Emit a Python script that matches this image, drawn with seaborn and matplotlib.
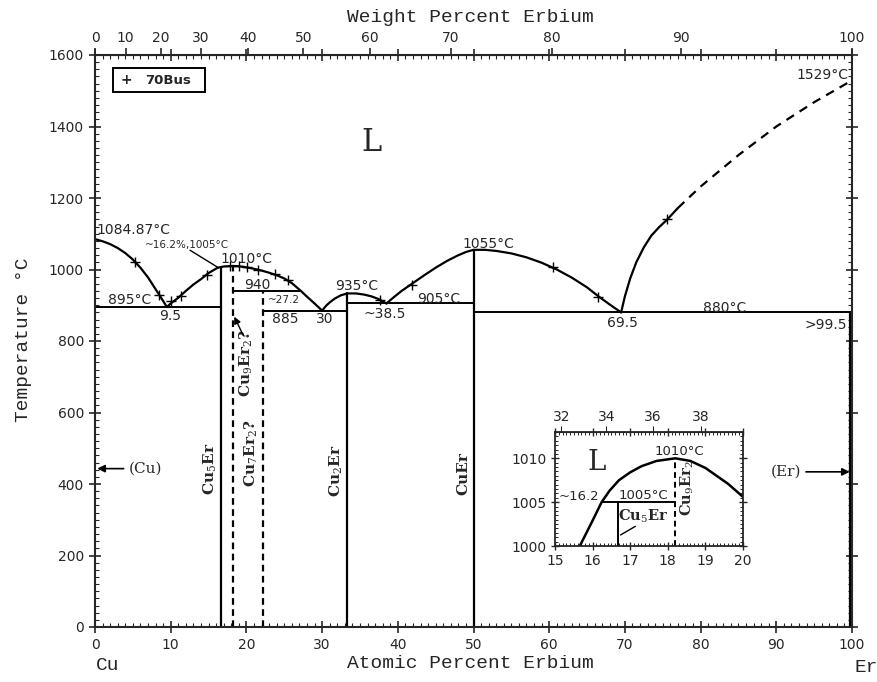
import numpy as np
import matplotlib
matplotlib.use("Agg")
import matplotlib.pyplot as plt
import seaborn as sns
from matplotlib.patches import Rectangle
from matplotlib.ticker import MultipleLocator

sns.set_style("ticks")
plt.rcParams["font.family"] = ["DejaVu Sans"]
plt.rcParams["mathtext.fontset"] = "dejavuserif"

# ---- data (atomic percent Er, temperature in C) ----
liq_cu_x = [0, 1, 2, 3, 4, 5, 6, 7, 8, 9, 9.5]
liq_cu_y = [1084.87, 1079, 1071, 1060, 1046, 1028, 1005, 978, 945, 912, 895]

liq_cu5_x = [9.5, 10, 11, 12, 13, 14, 15, 16.2, 17, 18.2, 19, 20, 21, 22, 23, 24, 25, 26, 27.2, 28, 29, 30]
liq_cu5_y = [895, 905, 921, 940, 958, 973, 990, 1005, 1008.4, 1010, 1009, 1006, 1002, 997, 991, 984,
             975, 962, 940, 924, 905, 885]

liq_cu2_x = [30, 30.5, 31, 31.7, 32.5, 33.33, 34.5, 35.5, 36.5, 37.5, 38.5]
liq_cu2_y = [885, 898, 908, 919, 928, 933, 933, 930, 925, 917, 905]

liq_cuer_x = [38.5, 39.5, 40.5, 42, 43.5, 45, 46.5, 48, 49, 50, 51.5, 53, 55, 57, 59, 61, 63, 65,
              66.5, 68, 69.5]
liq_cuer_y = [905, 923, 940, 962, 984, 1005, 1024, 1040, 1049, 1055, 1055, 1052, 1045, 1034, 1019,
              1000, 977, 950, 925, 902, 880]

liq_er_x = [69.5, 70, 70.7, 71.5, 72.5, 73.5, 74.5, 75.6, 77]
liq_er_y = [880, 925, 975, 1020, 1062, 1095, 1118, 1140, 1172]
liq_er_dash_x = [77, 80, 85, 90, 95, 100]
liq_er_dash_y = [1172, 1232, 1320, 1400, 1468, 1529]

# horizontal invariants: (x_start, x_end, T)
invariants = [(0, 16.67, 895), (18.18, 27.2, 940), (22.22, 33.33, 885),
              (33.33, 50, 905), (50, 100, 880)]
# compounds: (x, top T, dashed)
compounds = [(16.67, 1005, False), (18.18, 1010, True), (22.22, 940, True),
             (33.33, 933, False), (50, 1055, False), (99.7, 880, False)]

plus_x = [5.3, 8.4, 10.1, 11.4, 14.8, 17.8, 19.0, 20.1, 21.5, 23.8, 25.5, 37.6, 41.9, 60.5, 66.5, 75.6]
plus_y = [1022, 930, 913, 925, 985, 1009, 1009, 1006, 1000, 988, 972, 914, 958, 1007, 922, 1140]

# inset
ins_liq_x = [15.66, 16.0, 16.24, 16.45, 16.7, 17.0, 17.3, 17.7, 18.2, 18.6, 19.0, 19.3, 19.6, 20.0]
ins_liq_y = [1000, 1002.9, 1005, 1006.3, 1007.5, 1008.4, 1009.1, 1009.7, 1010, 1009.7, 1008.9,
             1008.0, 1007.1, 1005.6]

M_CU, M_ER = 63.546, 167.26


def at2wt(a):
    a = np.asarray(a, dtype=float)
    with np.errstate(all="ignore"):
        return 100 * a * M_ER / (a * M_ER + (100 - a) * M_CU)


def wt2at(w):
    w = np.asarray(w, dtype=float)
    with np.errstate(all="ignore"):
        return 100 * (w / M_ER) / (w / M_ER + (100 - w) / M_CU)


def curve(ax, x, y, ls="-", lw=1.6):
    sns.lineplot(x=x, y=y, ax=ax, sort=False, estimator=None,
                 color="black", linewidth=lw, linestyle=ls)


fig = plt.figure(figsize=(8.77, 6.82), dpi=100)
ax = fig.add_axes([95 / 877, 55 / 682, 757 / 877, 572 / 682])

for xs, ys in [(liq_cu_x, liq_cu_y), (liq_cu5_x, liq_cu5_y), (liq_cu2_x, liq_cu2_y),
               (liq_cuer_x, liq_cuer_y), (liq_er_x, liq_er_y)]:
    curve(ax, xs, ys)
curve(ax, liq_er_dash_x, liq_er_dash_y, ls=(0, (4, 3)))

for x0, x1, t in invariants:
    curve(ax, [x0, x1], [t, t], lw=1.4)
for x, t, dashed in compounds:
    curve(ax, [x, x], [0, t], ls=(0, (3, 2)) if dashed else "-", lw=1.6)

sns.scatterplot(x=plus_x, y=plus_y, ax=ax, marker="+", s=60, color="black",
                linewidth=1.0, zorder=5)

ax.set_xlim(0, 100)
ax.set_ylim(0, 1600)
ax.xaxis.set_major_locator(MultipleLocator(10))
ax.xaxis.set_minor_locator(MultipleLocator(1))
ax.yaxis.set_major_locator(MultipleLocator(200))
ax.yaxis.set_minor_locator(MultipleLocator(20))
ax.tick_params(which="major", direction="inout", length=8, width=1.2,
               top=True, right=True, labelsize=10, pad=4)
ax.tick_params(which="minor", direction="in", length=3, width=0.8, top=True, right=True)
for s in ax.spines.values():
    s.set_linewidth(1.5)
ax.set_xlabel("")
ax.set_ylabel("")

sec = ax.secondary_xaxis("top", functions=(at2wt, wt2at))
sec.set_xticks(list(range(0, 101, 10)))
sec.tick_params(direction="out", length=5, width=1.2, labelsize=10, pad=2)

# annotations
fs = 10
ax.text(36.5, 1355, "L", fontsize=22, family="DejaVu Serif", ha="center", va="center")
ax.text(0.2, 1092, "1084.87°C", fontsize=fs, ha="left", va="bottom")
ax.text(6.6, 1068, "~16.2%,1005°C", fontsize=7.5, ha="left", va="center")
curve(ax, [12.55, 16.3], [1054, 1005], lw=1.0)
ax.text(20.0, 1030, "1010°C", fontsize=fs, ha="center", va="center")
ax.text(21.4, 957, "940", fontsize=fs, ha="center", va="center")
ax.text(25.0, 915, "~27.2", fontsize=7.5, ha="center", va="center")
ax.text(25.1, 862, "885", fontsize=fs, ha="center", va="center")
ax.text(30.4, 862, "30", fontsize=fs, ha="center", va="center")
ax.text(34.6, 954, "935°C", fontsize=fs, ha="center", va="center")
ax.text(38.3, 876, "~38.5", fontsize=fs, ha="center", va="center")
ax.text(45.4, 917, "905°C", fontsize=fs, ha="center", va="center")
ax.text(51.9, 1071, "1055°C", fontsize=fs, ha="center", va="center")
ax.text(69.7, 850, "69.5", fontsize=fs, ha="center", va="center")
ax.text(83.2, 892, "880°C", fontsize=fs, ha="center", va="center")
ax.text(99.4, 845, ">99.5", fontsize=fs, ha="right", va="center")
ax.text(4.6, 915, "895°C", fontsize=fs, ha="center", va="center")
ax.text(9.9, 870, "9.5", fontsize=fs, ha="center", va="center")
ax.text(99.5, 1545, "1529°C", fontsize=fs, ha="right", va="center")

ax.annotate("(Cu)", xy=(0.3, 443), xytext=(4.4, 443), fontsize=11, family="DejaVu Serif",
            ha="left", va="center",
            arrowprops=dict(arrowstyle="-|>", color="black", lw=1.2, shrinkA=1, shrinkB=0))
ax.annotate("(Er)", xy=(99.7, 434), xytext=(93.3, 434), fontsize=11, family="DejaVu Serif",
            ha="right", va="center",
            arrowprops=dict(arrowstyle="-|>", color="black", lw=1.2, shrinkA=1, shrinkB=0))

lab = dict(rotation=90, ha="center", va="center", fontsize=11, family="DejaVu Serif",
           fontweight="bold")
ax.text(15.2, 442, r"Cu$_5$Er", **lab)
ax.text(20.0, 738, r"Cu$_9$Er$_2$?", **lab)
ax.text(20.7, 487, r"Cu$_7$Er$_2$?", **lab)
ax.text(31.9, 436, r"Cu$_2$Er", **lab)
ax.text(48.7, 428, "CuEr", **lab)
ax.annotate("", xy=(18.4, 868), xytext=(19.6, 815),
            arrowprops=dict(arrowstyle="-|>", color="black", lw=1.0, shrinkA=0, shrinkB=0))

# legend box
ax.add_patch(Rectangle((0.0238, 0.935), 0.1215, 0.042, transform=ax.transAxes,
                       fill=False, ec="black", lw=1.4, zorder=6))
ax.text(0.042, 0.956, "+", transform=ax.transAxes, fontsize=10, fontweight="bold",
        va="center", ha="center")
ax.text(0.066, 0.956, "70Bus", transform=ax.transAxes, fontsize=9.5, fontweight="bold",
        va="center", ha="left")

mono = dict(family="Liberation Mono", fontsize=14)
fig.text(470 / 877, 1 - 17 / 682, "Weight Percent Erbium", ha="center", va="center", **mono)
fig.text(470 / 877, 1 - 663 / 682, "Atomic Percent Erbium", ha="center", va="center", **mono)
fig.text(24 / 877, 1 - 340 / 682, "Temperature °C", rotation=90, ha="center", va="center", **mono)
fig.text(108 / 877, 1 - 665 / 682, "Cu", ha="center", va="center", **mono)
fig.text(866 / 877, 1 - 667 / 682, "Er", ha="center", va="center", **mono)

# ---- inset ----
ins = fig.add_axes([555 / 877, 1 - 546 / 682, 188 / 877, 114 / 682])
curve(ins, ins_liq_x, ins_liq_y, lw=1.8)
curve(ins, [16.24, 18.18], [1005, 1005], lw=1.4)
curve(ins, [16.67, 16.67], [1000, 1005], lw=1.4)
curve(ins, [18.18, 18.18], [1000, 1010], ls=(0, (3, 2)), lw=1.4)
ins.set_xlim(15, 20)
ins.set_ylim(1000, 1013)
ins.xaxis.set_major_locator(MultipleLocator(1))
ins.xaxis.set_minor_locator(MultipleLocator(0.1))
ins.yaxis.set_major_locator(MultipleLocator(5))
ins.yaxis.set_minor_locator(MultipleLocator(0.5))
ins.tick_params(which="major", direction="inout", length=6, width=1.0,
                top=True, right=True, labelsize=10, pad=3)
ins.tick_params(which="minor", direction="in", length=2.5, width=0.7, top=True, right=True)
for s in ins.spines.values():
    s.set_linewidth(1.3)
ins.set_xlabel("")
ins.set_ylabel("")
isec = ins.secondary_xaxis("top", functions=(at2wt, wt2at))
isec.set_xticks([32, 34, 36, 38])
isec.tick_params(direction="out", length=4, labelsize=10, pad=2)

ins.text(16.1, 1009.5, "L", fontsize=20, family="DejaVu Serif", ha="center", va="center")
ins.text(18.3, 1010.8, "1010°C", fontsize=9.5, ha="center", va="center")
ins.text(16.18, 1005.6, "~16.2", fontsize=9.5, ha="right", va="center")
ins.text(17.35, 1005.8, "1005°C", fontsize=9.5, ha="center", va="center")
ins.text(17.35, 1003.4, r"Cu$_5$Er", fontsize=10.5, family="DejaVu Serif",
         fontweight="bold", ha="center", va="center")
ins.annotate("", xy=(16.68, 1001.1), xytext=(17.2, 1002.4),
             arrowprops=dict(arrowstyle="-", color="black", lw=1.0))
ins.text(18.52, 1006.6, r"Cu$_9$Er$_2$", rotation=90, fontsize=10.5, family="DejaVu Serif",
         fontweight="bold", ha="center", va="center")

fig.savefig("out.png", dpi=100)
